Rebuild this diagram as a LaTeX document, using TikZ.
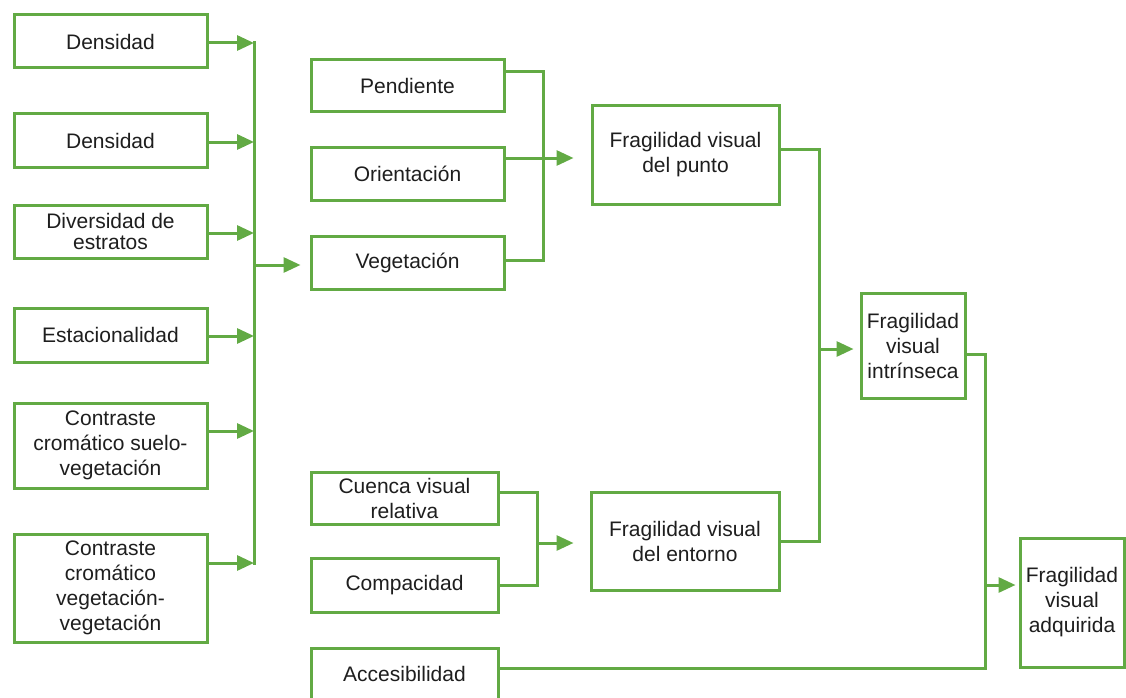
\documentclass[tikz,border=0pt]{standalone}
\usepackage{fontspec}
\setmainfont{Liberation Sans}
\usetikzlibrary{arrows.meta}
\definecolor{leaf}{RGB}{98,170,68}
\definecolor{ink}{RGB}{30,30,30}
\tikzset{
  box/.style={draw=leaf, line width=3pt, fill=white, inner sep=0pt,
    align=center, text=ink, font=\fontsize{21pt}{25pt}\selectfont},
  ln/.style={draw=leaf, line width=3pt},
  arr/.style={ln, -{Triangle[length=17pt,width=15pt]}}
}
\begin{document}
\begin{tikzpicture}[x=1pt,y=-1pt]
\useasboundingbox (0,0) rectangle (1126,698);
\fill[white] (0,0) rectangle (1126,698);

% left column of factors
\node[box, minimum width=193pt, minimum height=53pt] (l1) at (110.5,41.5) {Densidad};
\node[box, minimum width=193pt, minimum height=53pt] (l2) at (110.5,140.5) {Densidad};
\node[box, minimum width=193pt, minimum height=53pt, font=\fontsize{21pt}{21pt}\selectfont] (l3) at (110.5,231.5) {Diversidad de\\estratos};
\node[box, minimum width=193pt, minimum height=54pt] (l4) at (110.5,335) {Estacionalidad};
\node[box, minimum width=193pt, minimum height=85pt] (l5) at (110.5,445.5) {Contraste\\cromático suelo-\\vegetación};
\node[box, minimum width=193pt, minimum height=108pt] (l6) at (110.5,588) {Contraste\\cromático\\vegetación-\\vegetación};

% middle column
\node[box, minimum width=193pt, minimum height=52pt] (pend) at (407.5,86) {Pendiente};
\node[box, minimum width=193pt, minimum height=53pt] (orie) at (407.5,173.5) {Orientación};
\node[box, minimum width=193pt, minimum height=53pt] (veg) at (407.5,262.5) {Vegetación};
\node[box, minimum width=187pt, minimum height=52pt] (cuen) at (404.5,498) {Cuenca visual\\relativa};
\node[box, minimum width=187pt, minimum height=54pt] (comp) at (404.5,585) {Compacidad};
\node[box, minimum width=187pt, minimum height=52pt] (acc) at (404.5,674) {Accesibilidad};

% fragility results
\node[box, minimum width=187pt, minimum height=98pt] (punto) at (685.5,155) {Fragilidad visual\\del punto};
\node[box, minimum width=188pt, minimum height=98pt] (ento) at (685,541) {Fragilidad visual\\del entorno};
\node[box, minimum width=104pt, minimum height=105pt] (intr) at (913,345.5) {Fragilidad\\visual\\intrínseca};
\node[box, minimum width=104pt, minimum height=129pt] (adq) at (1072,602.5) {Fragilidad\\visual\\adquirida};

% bus positions
\coordinate (xL) at (254,0);
\coordinate (xM) at (543,0);
\coordinate (xE) at (537,0);
\coordinate (xR) at (819,0);
\coordinate (xA) at (985,0);

% vegetation factors into the left bus
\coordinate (p1) at ([yshift=-1.5pt]l1.east);
\coordinate (p2) at ([yshift=-1.5pt]l2.east);
\coordinate (p3) at ([yshift=-1.5pt]l3.east);
\coordinate (p4) at ([yshift=-1pt]l4.east);
\coordinate (p5) at ([yshift=14.5pt]l5.east);
\coordinate (p6) at ([yshift=25pt]l6.east);
\foreach \p in {p1,p2,p3,p4,p5,p6}
  \draw[arr] (\p) -- (\p -| xL);
\draw[ln] ([yshift=1.5pt]p1 -| xL) -- ([yshift=-1.5pt]p6 -| xL);
\coordinate (vin) at ([xshift=-9pt,yshift=-2.5pt]veg.west);
\draw[arr] (vin -| xL) -- (vin);

% point fragility
\coordinate (pe) at ([yshift=14pt]pend.east);
\coordinate (oe) at ([yshift=15.5pt]orie.east);
\coordinate (ve) at ([yshift=2.5pt]veg.east);
\coordinate (pin) at ([xshift=-17pt]punto.west);
\draw[ln] (pe) -| (ve -| xM) -- (ve);
\draw[arr] (oe) -- (oe -| pin);

% surroundings fragility
\coordinate (ce) at ([yshift=6pt]cuen.east);
\coordinate (me) at (comp.east);
\coordinate (ein) at ([xshift=-16pt,yshift=-2pt]ento.west);
\draw[ln] (ce) -| (me -| xE) -- (me);
\draw[arr] (ein -| xE) -- (ein);

% intrinsic fragility
\coordinate (po) at ([yshift=6pt]punto.east);
\coordinate (eo) at (ento.east);
\coordinate (iin) at ([xshift=-6pt,yshift=-3.5pt]intr.west);
\draw[ln] (po) -| (eo -| xR) -- (eo);
\draw[arr] (iin -| xR) -- (iin);

% acquired fragility
\coordinate (io) at ([yshift=-8.5pt]intr.east);
\coordinate (ao) at ([yshift=6pt]acc.east);
\coordinate (qin) at ([xshift=-3pt,yshift=17.5pt]adq.west);
\draw[ln] (io) -| (ao -| xA) -- (ao);
\draw[arr] (qin -| xA) -- (qin);
\end{tikzpicture}
\end{document}
